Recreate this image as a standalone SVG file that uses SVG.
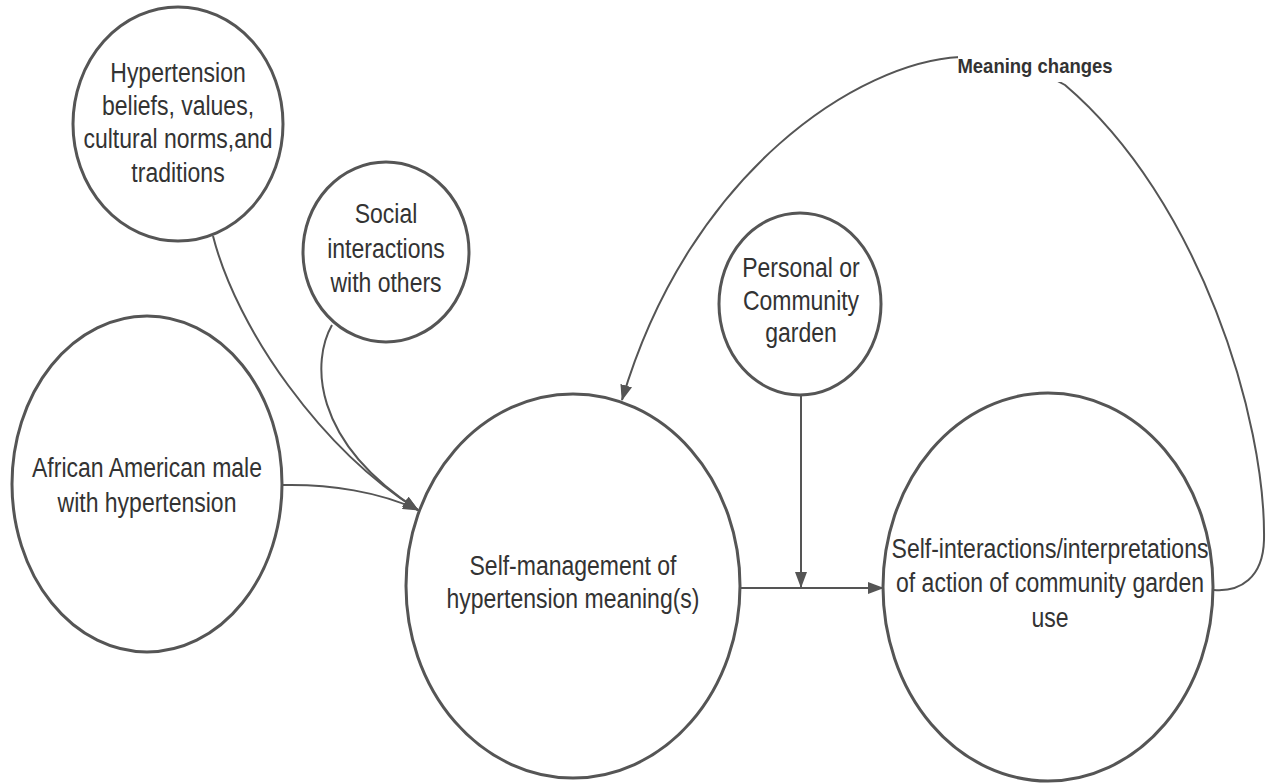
<svg xmlns="http://www.w3.org/2000/svg" width="1274" height="784" viewBox="0 0 1274 784">
  <style>
    .node { fill: #ffffff; stroke: #555555; stroke-width: 3; }
    .lbl { font-family: "Liberation Sans", Arial, sans-serif; font-size: 23px; fill: #333333; text-anchor: middle; }
    .tag { font-family: "Liberation Sans", Arial, sans-serif; font-size: 18.5px; font-weight: bold; fill: #333333; text-anchor: middle; }
    .edge { fill: none; stroke: #555555; stroke-width: 2; }
  </style>
  <defs>
    <marker id="arrow" markerWidth="16" markerHeight="12" refX="15" refY="6" orient="auto" markerUnits="userSpaceOnUse">
      <path d="M0,0 L16,6 L0,12 Z" fill="#555555"/>
    </marker>
  </defs>
  <rect width="1274" height="784" fill="#ffffff"/>

  <!-- connectors -->
  <g id="connectors">
    <path class="edge" d="M213,236 C237,330 322,450 418,510" marker-end="url(#arrow)"/>
    <path class="edge" d="M332,325 C312,360 310,440 418,510" marker-end="url(#arrow)"/>
    <path class="edge" d="M283,485 C330,484 380,492 418,510" marker-end="url(#arrow)"/>
    <path class="edge" d="M801,396 L801,587" marker-end="url(#arrow)"/>
    <path class="edge" d="M740,588 L883,588" marker-end="url(#arrow)"/>
    <!-- feedback loop: self-interactions back to self-management -->
    <path class="edge" d="M1214,590 C1240,592 1263,578 1264,540 C1266,420 1200,200 1065,85 C1040,70 1000,58 960,57 C860,62 690,170 622,400" marker-end="url(#arrow)"/>
    <rect x="958" y="55" width="156" height="27" fill="#ffffff"/>
    <text class="tag" transform="matrix(1 0 0 1.14 1035 73)">Meaning changes</text>
  </g>

  <!-- nodes -->
  <g id="beliefs">
    <ellipse class="node" cx="178" cy="124" rx="105" ry="117"/>
    <text class="lbl" transform="matrix(1 0 0 1.17 178 82)">Hypertension</text>
    <text class="lbl" transform="matrix(1 0 0 1.17 178 115)">beliefs, values,</text>
    <text class="lbl" transform="matrix(1 0 0 1.17 178 148)">cultural norms,and</text>
    <text class="lbl" transform="matrix(1 0 0 1.17 178 182)">traditions</text>
  </g>

  <g id="social">
    <ellipse class="node" cx="386" cy="252" rx="83" ry="90"/>
    <text class="lbl" transform="matrix(1 0 0 1.17 386 223)">Social</text>
    <text class="lbl" transform="matrix(1 0 0 1.17 386 258)">interactions</text>
    <text class="lbl" transform="matrix(1 0 0 1.17 386 292)">with others</text>
  </g>

  <g id="patient">
    <ellipse class="node" cx="147" cy="484" rx="135" ry="168"/>
    <text class="lbl" transform="matrix(1 0 0 1.17 147 477)">African American male</text>
    <text class="lbl" transform="matrix(1 0 0 1.17 147 512)">with hypertension</text>
  </g>

  <g id="garden">
    <ellipse class="node" cx="800" cy="304" rx="81" ry="91"/>
    <text class="lbl" transform="matrix(1 0 0 1.17 801 277)">Personal or</text>
    <text class="lbl" transform="matrix(1 0 0 1.17 801 310)">Community</text>
    <text class="lbl" transform="matrix(1 0 0 1.17 801 342)">garden</text>
  </g>

  <g id="self-management">
    <ellipse class="node" cx="573" cy="586" rx="167" ry="192"/>
    <text class="lbl" transform="matrix(1 0 0 1.17 573 575)">Self-management of</text>
    <text class="lbl" transform="matrix(1 0 0 1.17 573 608)">hypertension meaning(s)</text>
  </g>

  <g id="self-interactions">
    <ellipse class="node" cx="1048" cy="587" rx="165" ry="194"/>
    <text class="lbl" transform="matrix(1 0 0 1.17 1050 558)">Self-interactions/interpretations</text>
    <text class="lbl" transform="matrix(1 0 0 1.17 1050 592)">of action of community garden</text>
    <text class="lbl" transform="matrix(1 0 0 1.17 1050 627)">use</text>
  </g>
</svg>
